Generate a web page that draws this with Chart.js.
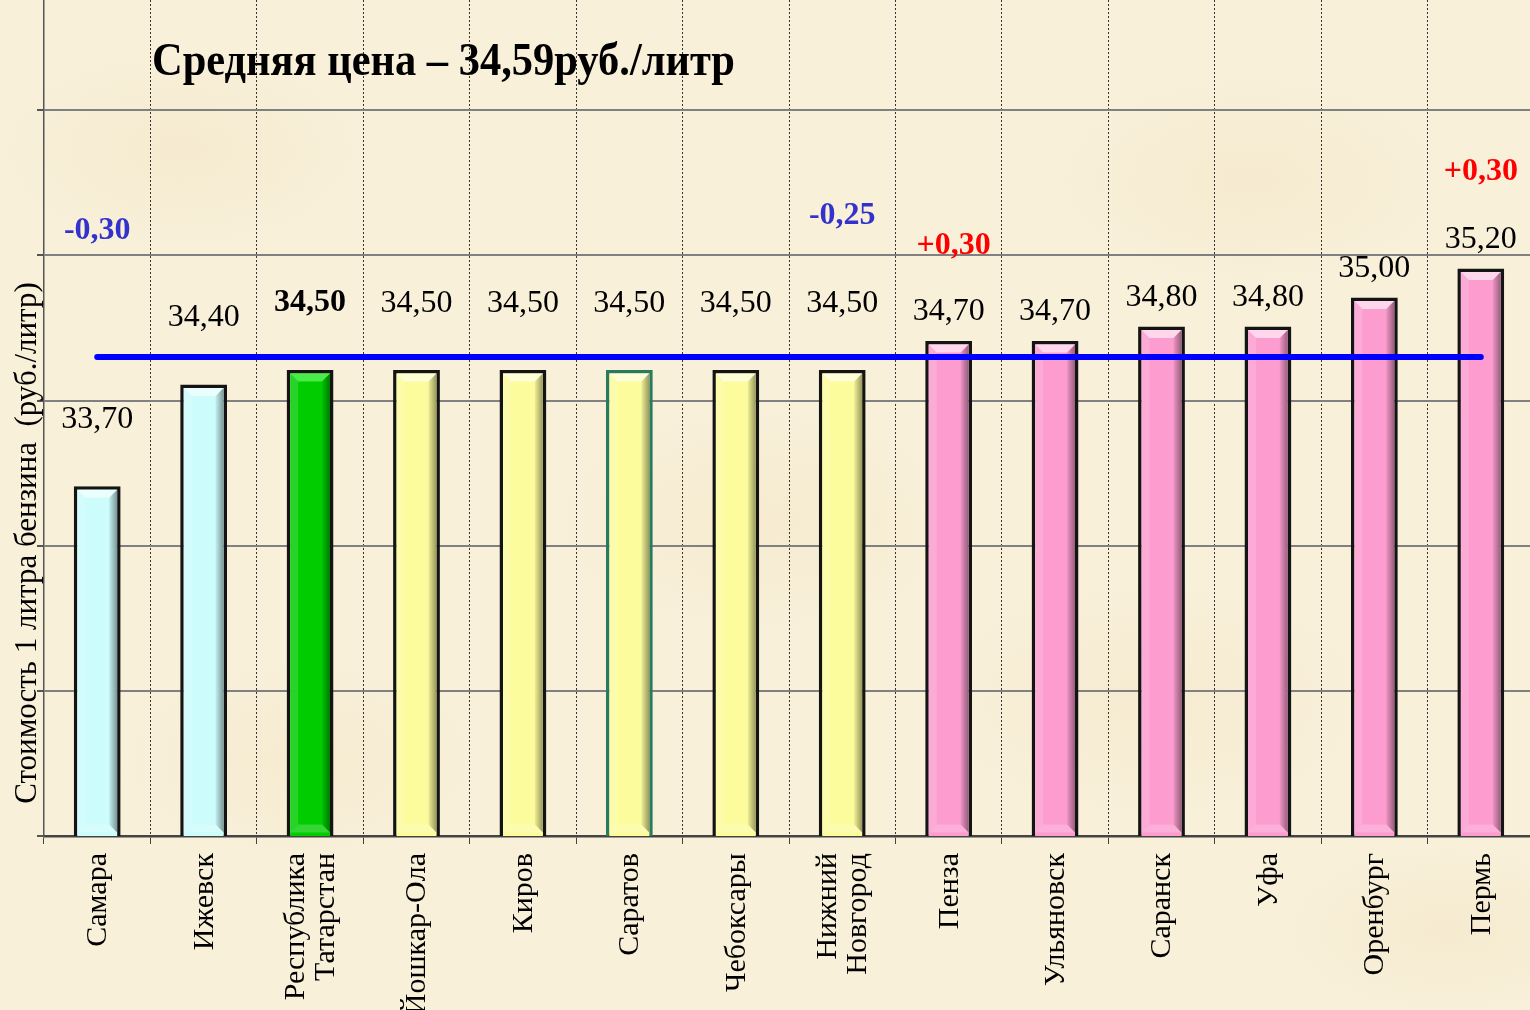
<!DOCTYPE html>
<html lang="ru">
<head>
<meta charset="utf-8">
<title>Стоимость 1 литра бензина</title>
<script src="https://cdn.jsdelivr.net/npm/chart.js@4.4.1/dist/chart.umd.min.js"></script>
<style>
  html, body {
    margin: 0;
    padding: 0;
    width: 1530px;
    height: 1010px;
    overflow: hidden;
  }
  body {
    background-color: #f9f0da;
    background-image:
      radial-gradient(ellipse 260px 140px at 180px 150px, rgba(238, 224, 186, 0.35), rgba(238, 224, 186, 0) 70%),
      radial-gradient(ellipse 300px 160px at 760px 520px, rgba(240, 226, 188, 0.35), rgba(240, 226, 188, 0) 70%),
      radial-gradient(ellipse 280px 150px at 1250px 180px, rgba(238, 224, 186, 0.35), rgba(238, 224, 186, 0) 70%),
      radial-gradient(ellipse 320px 170px at 1150px 700px, rgba(240, 226, 190, 0.35), rgba(240, 226, 190, 0) 70%),
      radial-gradient(ellipse 260px 140px at 300px 760px, rgba(240, 226, 190, 0.35), rgba(240, 226, 190, 0) 70%),
      radial-gradient(ellipse 240px 120px at 1450px 930px, rgba(238, 224, 186, 0.35), rgba(238, 224, 186, 0) 70%);
  }
  #wrap {
    position: relative;
    width: 1536px;
    height: 1010px;
  }
</style>
</head>
<body>
<div id="wrap"><canvas id="priceChart"></canvas></div>
<script>
const cities = [
  "Самара", "Ижевск", ["Республика", "Татарстан"], "Йошкар-Ола", "Киров",
  "Саратов", "Чебоксары", ["Нижний", "Новгород"], "Пенза", "Ульяновск",
  "Саранск", "Уфа", "Оренбург", "Пермь"
];
const prices = [33.70, 34.40, 34.50, 34.50, 34.50, 34.50, 34.50, 34.50, 34.70, 34.70, 34.80, 34.80, 35.00, 35.20];
const changes = ["-0,30", "", "", "", "", "", "", "-0,25", "+0,30", "", "", "", "", "+0,30"];
const avgPrice = 34.59;
const avgLine = [34.59, 34.59, 34.59, 34.59, 34.59, 34.59, 34.59, 34.59, 34.59, 34.59, 34.59, 34.59, 34.59, 34.59];
const yTicks = [31.29, 32.29, 33.29, 34.29, 35.29, 36.29];

const titleText = "Средняя цена – 34,59руб./литр";
const yTitle = "Стоимость 1 литра бензина  (руб./литр)";
const homeIndex = 2; // Татарстан выделен

const barColors = [
  "#ccfcfc", "#ccfcfc", "#00cc00", "#fcfc9c", "#fcfc9c", "#fcfc9c", "#fcfc9c",
  "#fcfc9c", "#fc9ccf", "#fc9ccf", "#fc9ccf", "#fc9ccf", "#fc9ccf", "#fc9ccf"
];
const barBorders = barColors.map((c, i) => (i === 5 ? "#2a7a60" : "#141414"));

// how high the change notes sit above the bar tops
const noteLift = { 0: 255, 7: 154, 8: 95, 13: 97 };
const noteShift = { 8: 5 };

function poly(ctx, pts, fill) {
  ctx.beginPath();
  ctx.moveTo(pts[0][0], pts[0][1]);
  for (let i = 1; i < pts.length; i++) ctx.lineTo(pts[i][0], pts[i][1]);
  ctx.closePath();
  ctx.fillStyle = fill;
  ctx.fill();
}

// bevelled look on the bars, drawn right after the bar dataset
const bevelPlugin = {
  id: "bevel",
  afterDatasetDraw(chart, args) {
    if (args.index !== 0) return;
    const ctx = chart.ctx;
    const area = chart.chartArea;
    args.meta.data.forEach((bar, i) => {
      const { x, y, base, width } = bar.getProps(["x", "y", "base", "width"], true);
      const bw = 3.5;
      const l = x - width / 2 + bw;
      const r = x + width / 2 - bw;
      const t = y + bw;
      const b = Math.min(base, area.bottom) - bw;
      const k = 8;
      const light = i === homeIndex ? "rgba(120,255,120,0.6)" : "rgba(255,255,255,0.6)";
      ctx.save();
      poly(ctx, [[l, t], [r, t], [r - k, t + k], [l + k, t + k]], light);
      const g = ctx.createLinearGradient(r - k, 0, r, 0);
      g.addColorStop(0, "rgba(0,0,0,0.05)");
      g.addColorStop(1, "rgba(0,0,0,0.4)");
      poly(ctx, [[r, t], [r, b], [r - k, b - k], [r - k, t + k]], g);
      poly(ctx, [[l, t], [l + k, t + k], [l + k, b - k], [l, b]], "rgba(255,255,255,0.15)");
      poly(ctx, [[l, b], [l + k, b - k], [r - k, b - k], [r, b]], "rgba(255,255,255,0.2)");
      ctx.restore();
    });
  }
};

const textPlugin = {
  id: "texts",
  afterDraw(chart) {
    const ctx = chart.ctx;
    const bars = chart.getDatasetMeta(0).data;
    const xScale = chart.scales.x;
    ctx.save();

    // title inside the plot, narrow bold serif
    ctx.font = 'bold 46px "Liberation Serif"';
    ctx.fillStyle = "#000";
    ctx.textAlign = "left";
    ctx.textBaseline = "alphabetic";
    const tw = ctx.measureText(titleText).width;
    ctx.save();
    ctx.translate(152, 75);
    ctx.scale(583 / tw, 1);
    ctx.fillText(titleText, 0, 0);
    ctx.restore();

    // y axis title
    ctx.save();
    ctx.translate(28, 543);
    ctx.rotate(-Math.PI / 2);
    ctx.font = '31px "Liberation Serif"';
    ctx.textAlign = "center";
    ctx.textBaseline = "middle";
    ctx.fillText(yTitle, 0, 0);
    ctx.restore();

    // category names, rotated, each line centred on its tick
    ctx.font = '30px "Liberation Serif"';
    ctx.textAlign = "right";
    ctx.textBaseline = "middle";
    cities.forEach((name, i) => {
      const lines = Array.isArray(name) ? name : [name];
      const cx = xScale.getPixelForTick(i);
      lines.forEach((line, j) => {
        ctx.save();
        ctx.translate(cx + (j - (lines.length - 1) / 2) * 30 + 1, xScale.top + 17);
        ctx.rotate(-Math.PI / 2);
        ctx.fillText(line, 0, 0);
        ctx.restore();
      });
    });

    // value labels
    ctx.textAlign = "center";
    ctx.textBaseline = "middle";
    bars.forEach((bar, i) => {
      const v = prices[i];
      const lift = v < avgPrice ? 67 : 29;
      ctx.font = (i === homeIndex ? "bold " : "") + '32px "Liberation Serif"';
      ctx.fillStyle = "#000";
      ctx.fillText(v.toFixed(2).replace(".", ","), bar.x, bar.y - lift);
    });

    // change notes
    ctx.font = 'bold 32px "Liberation Serif"';
    bars.forEach((bar, i) => {
      if (!changes[i]) return;
      ctx.fillStyle = changes[i].startsWith("-") ? "#3333cc" : "#ff0000";
      ctx.fillText(changes[i], bar.x + (noteShift[i] || 0), bar.y - noteLift[i]);
    });
    ctx.restore();
  }
};

const chartCtx = document.getElementById("priceChart").getContext("2d");
new Chart(chartCtx, {
  type: "bar",
  data: {
    labels: cities,
    datasets: [
      {
        type: "bar",
        data: prices,
        backgroundColor: barColors,
        borderColor: barBorders,
        borderWidth: 3.5,
        borderSkipped: false,
        barPercentage: 0.44,
        categoryPercentage: 1,
        order: 1
      },
      {
        type: "line",
        data: avgLine,
        borderColor: "#0000ff",
        borderWidth: 6,
        borderCapStyle: "round",
        pointRadius: 0,
        fill: false,
        order: 0
      }
    ]
  },
  options: {
    responsive: true,
    maintainAspectRatio: false,
    animation: false,
    layout: { padding: { left: 0, right: 2, top: 0, bottom: 0 } },
    plugins: {
      legend: { display: false },
      tooltip: { enabled: false }
    },
    scales: {
      x: {
        grid: { color: "#333", lineWidth: 1, tickLength: 8, tickColor: "#444", offset: true },
        border: { color: "#444", width: 2.5, dash: [2, 2] },
        ticks: { display: false, autoSkip: false },
        afterFit: (scale) => { scale.height = 174; }
      },
      y: {
        min: 31.29,
        max: 37.05,
        afterBuildTicks: (scale) => { scale.ticks = yTicks.map((v) => ({ value: v })); },
        ticks: { display: false },
        grid: { color: "#808080", lineWidth: 2, tickLength: 7, tickColor: "#555" },
        border: { color: "#555", width: 1.5 },
        afterFit: (scale) => { scale.width = 44; }
      }
    }
  },
  plugins: [bevelPlugin, textPlugin]
});
</script>
</body>
</html>
